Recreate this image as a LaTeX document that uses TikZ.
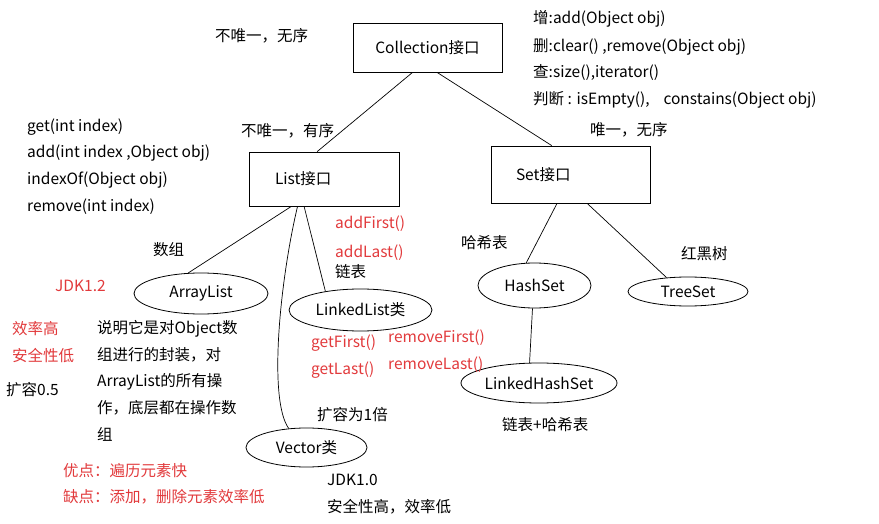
\documentclass[tikz,border=0pt]{standalone}
\usepackage{fontspec}
\setmainfont{Noto Sans CJK SC}
\usetikzlibrary{shapes.geometric}
\definecolor{notered}{RGB}{226,58,60}

\begin{document}
\begin{tikzpicture}[x=1pt,y=-1pt,
		every node/.style={font=\fontsize{15.5}{18}\selectfont, inner sep=0pt},
		box/.style={draw, rectangle, line width=0.8pt},
		oval/.style={draw, ellipse, line width=0.8pt},
		note/.style={anchor=west, text height=12pt, text depth=3.5pt},
		rednote/.style={note, text=notered},
		link/.style={line width=0.7pt}]
		\fill[white] (0,0) rectangle (879,524);
		\useasboundingbox (0,0) rectangle (879,524);

		% interfaces
		\node[box, minimum width=149pt, minimum height=49pt] (coll) at (427.5,47.5) {Collection接口};
		\node[box, text width=98pt, inner xsep=26pt, minimum height=54pt, align=left] (list) at (324,179) {List接口};
		\node[box, text width=109pt, inner xsep=25pt, minimum height=57pt, align=left] (set) at (570.5,174.5) {Set接口};

		% classes
		\node[oval, minimum width=134pt, minimum height=41pt] (arr) at (201,293.5) {ArrayList};
		\node[oval, minimum width=143pt, minimum height=42pt] (ll) at (360.5,310) {LinkedList类};
		\node[oval, minimum width=121pt, minimum height=39pt] (vec) at (306.5,447.5) {Vector类};
		\node[oval, minimum width=113pt, minimum height=45pt] (hs) at (534.5,285.5) {HashSet};
		\node[oval, minimum width=120pt, minimum height=29pt] (ts) at (688,291.5) {TreeSet};
		\node[oval, minimum width=156pt, minimum height=40pt] (lhs) at (539,383) {LinkedHashSet};

		\draw[link] (coll.239) -- (list.104);
		\draw[link] (coll.291) -- (set.123);
		\draw[link] (list.220) -- (arr.122);
		\draw[link] (list.234) -- (ll.152);
		\draw[link] (list.226) .. controls (280,280) and (268,400) .. (vec.133);
		\draw[link] (set.245) -- (hs.110);
		\draw[link] (set.300) -- (ts.147);
		\draw[link] (hs.265) -- (lhs.115);

		% Collection
		\node[note] (collprop) at (215,37) {不唯一，无序};
		\node[note] (collm1) at (533,19) {增:add(Object obj)};
		\node[note] (collm2) at (533,47) {删:clear() ,remove(Object obj)};
		\node[note] (collm3) at (533,73) {查:size(),iterator()};
		\node[note] (collm4) at (533,100) {判断 : isEmpty(),\ \ \ \ constains(Object obj)};

		% List
		\node[note] (listm1) at (27,127) {get(int index)};
		\node[note] (listm2) at (27,153) {add(int index ,Object obj)};
		\node[note] (listm3) at (27,180) {indexOf(Object obj)};
		\node[note] (listm4) at (27,207) {remove(int index)};
		\node[note] (listprop) at (241,132) {不唯一，有序};

		% ArrayList
		\node[note] (arrkind) at (153,251) {数组};
		\node[rednote] (arrjdk) at (55,287) {JDK1.2};
		\node[rednote] (arrfast) at (12,330) {效率高};
		\node[rednote] (arrsafe) at (12,357) {安全性低};
		\node[note] (arrgrow) at (6,391) {扩容0.5};
		\node[note] (arrdesc1) at (97,329) {说明它是对Object数};
		\node[note] (arrdesc2) at (97,356) {组进行的封装，对};
		\node[note] (arrdesc3) at (97,382) {ArrayList的所有操};
		\node[note] (arrdesc4) at (97,409) {作，底层都在操作数};
		\node[note] (arrdesc5) at (97,436) {组};
		\node[rednote] (arrpro) at (63,472) {优点：遍历元素快};
		\node[rednote] (arrcon) at (63,498) {缺点：添加，删除元素效率低};

		% LinkedList
		\node[rednote] (lladd1) at (335,224) {addFirst()};
		\node[rednote] (lladd2) at (335,253) {addLast()};
		\node[note] (llkind) at (335,273) {链表};
		\node[rednote] (llget1) at (311,343) {getFirst()};
		\node[rednote] (llget2) at (311,370) {getLast()};
		\node[rednote] (llrem1) at (388,338) {removeFirst()};
		\node[rednote] (llrem2) at (388,365) {removeLast()};

		% Vector
		\node[note] (vecgrow) at (317,416) {扩容为1倍};
		\node[note] (vecjdk) at (327,481) {JDK1.0};
		\node[note] (vecsafe) at (327,508) {安全性高，效率低};

		% Set
		\node[note] (setprop) at (590,131) {唯一，无序};
		\node[note] (hskind) at (461,244) {哈希表};
		\node[note] (tskind) at (681,255) {红黑树};
		\node[note] (lhskind) at (502,426) {链表+哈希表};
	\end{tikzpicture}
\end{document}
